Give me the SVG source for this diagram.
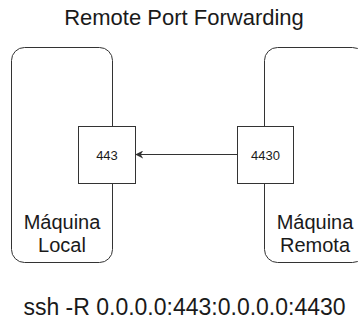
<svg xmlns="http://www.w3.org/2000/svg" width="358" height="320" viewBox="0 0 358 320">
<defs>
<style>
.big{fill:#fff;stroke:#333;stroke-width:1}
.port{fill:#fff;stroke:#333;stroke-width:1}
.t{font-family:"Liberation Sans",Arial,sans-serif;fill:#1a1a1a;text-anchor:middle}
.conn{stroke:#333;stroke-width:1;fill:none}
</style>
<marker id="arr" viewBox="0 0 10 10" refX="9" refY="5" markerWidth="8" markerHeight="8" markerUnits="userSpaceOnUse" orient="auto">
<path d="M0,0 L10,5 L0,10 L3,5 Z" fill="#333"/>
</marker>
</defs>
<rect width="358" height="320" fill="#fff"/>
<g id="title"><text class="t" x="184" y="25" font-size="22">Remote Port Forwarding</text></g>
<g id="local">
<rect class="big" x="11.5" y="47.5" width="101" height="215" rx="13"/>
<text class="t" x="62" y="229" font-size="20">Máquina</text>
<text class="t" x="62" y="252" font-size="20">Local</text>
</g>
<g id="remote">
<rect class="big" x="264.5" y="47.5" width="101" height="215" rx="13"/>
<text class="t" x="315" y="229" font-size="20">Máquina</text>
<text class="t" x="315" y="252" font-size="20">Remota</text>
</g>
<g id="port443">
<rect class="port" x="78.5" y="126.5" width="57" height="57"/>
<text class="t" x="107" y="159.5" font-size="13">443</text>
</g>
<g id="port4430">
<rect class="port" x="237.5" y="126.5" width="56" height="57"/>
<text class="t" x="265.5" y="159.5" font-size="13">4430</text>
</g>
<g id="connectors">
<line class="conn" x1="237.5" y1="154.5" x2="136" y2="154.5" marker-end="url(#arr)"/>
</g>
<g id="command"><text class="t" x="184.5" y="315" font-size="23">ssh -R 0.0.0.0:443:0.0.0.0:4430</text></g>
</svg>
